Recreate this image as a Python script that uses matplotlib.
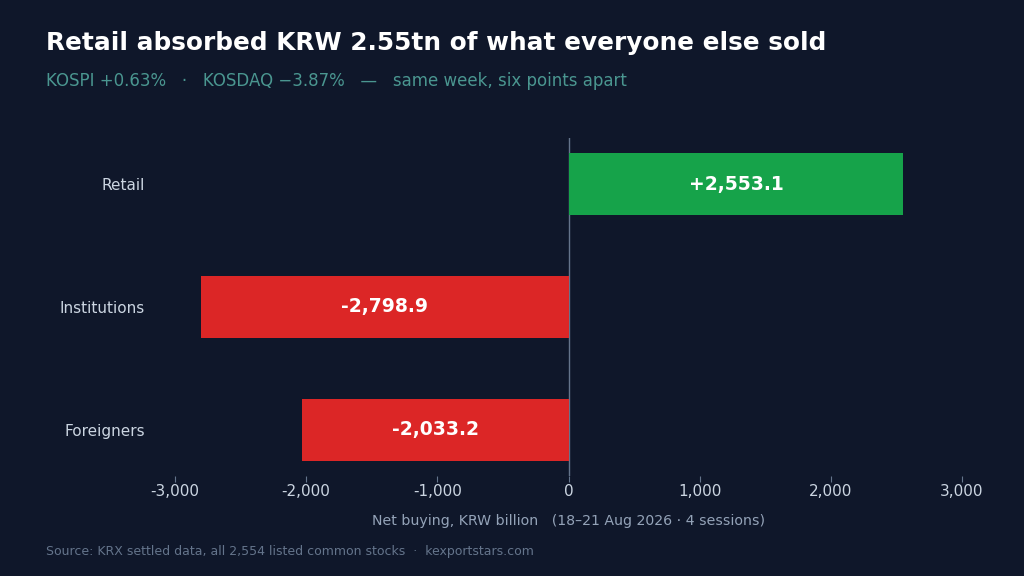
import numpy as np
import matplotlib.pyplot as plt

# data
groups = ['Retail', 'Institutions', 'Foreigners']
net_buy = [2553.1, -2798.9, -2033.2]
xticks = [-3000, -2000, -1000, 0, 1000, 2000, 3000]

bg = '#0f172a'
green = '#16a34a'
red = '#dc2626'

fig = plt.figure(figsize=(10.24, 5.76), dpi=100, facecolor=bg)
ax = fig.add_axes([175/1024, 1-476/576, (962-175)/1024, (476-138)/576])
ax.set_facecolor(bg)

ypos = np.arange(len(groups))
colors = [green if v > 0 else red for v in net_buy]
ax.barh(ypos, net_buy, height=0.5, color=colors, zorder=2)

for y, v in zip(ypos, net_buy):
    lab = '{:+,.1f}'.format(v) if v > 0 else '{:,.1f}'.format(v)
    ax.text(v/2, y, lab, ha='center', va='center', color='white',
            fontsize=13.5, fontweight='bold', zorder=3)

ax.axvline(0, color='#64748b', lw=1, zorder=1)

ax.set_xlim(-3000, 3000)
ax.set_ylim(len(groups) - 1 + 0.375, -0.375)
ax.set_xticks(xticks)
ax.set_xticklabels(['{:,}'.format(t) for t in xticks])
ax.set_yticks(ypos)
ax.set_yticklabels(groups)
ax.tick_params(axis='x', colors='#cbd5e1', labelsize=11, length=4, width=0.8, pad=1.5)
ax.tick_params(axis='y', colors='#cbd5e1', labelsize=11, length=0, pad=21.5)
ax.tick_params(axis='x', color='#64748b')
for s in ax.spines.values():
    s.set_visible(False)

ax.set_xlabel('Net buying, KRW billion   (18\u201321 Aug 2026 \u00b7 4 sessions)',
              color='#94a3b8', fontsize=10.2, labelpad=11)

fig.text(46/1024, 1-43/576, 'Retail absorbed KRW 2.55tn of what everyone else sold',
         color='white', fontsize=17.85, fontweight='bold', va='center', ha='left')
fig.text(46/1024, 1-81/576,
         'KOSPI +0.63%   \u00b7   KOSDAQ \u22123.87%   \u2014   same week, six points apart',
         color='#4a9690', fontsize=12, va='center', ha='left')
fig.text(46/1024, 1-551/576,
         'Source: KRX settled data, all 2,554 listed common stocks  \u00b7  kexportstars.com',
         color='#64748b', fontsize=9, va='center', ha='left')

fig.savefig('out.png', dpi=100, facecolor=bg)
